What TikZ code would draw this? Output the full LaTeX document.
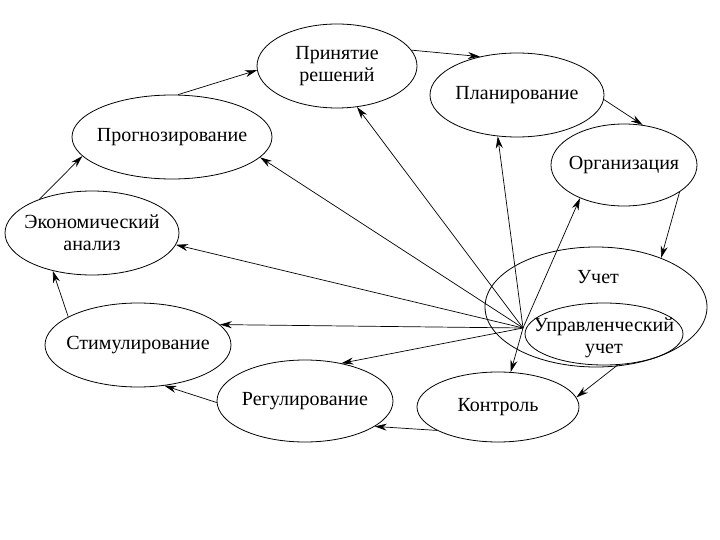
\documentclass[tikz,border=0pt]{standalone}
\usepackage{fontspec}
\setmainfont{Liberation Serif}
\usetikzlibrary{shapes.geometric,arrows.meta}
\begin{document}
\begin{tikzpicture}[x=1pt,y=-1pt,
  ell/.style={draw,ellipse,inner sep=0pt,line width=0.8pt},
  txt/.style={inner sep=0pt,align=center,font=\fontsize{20}{22}\selectfont},
  conn/.style={line width=0.7pt,-{Stealth[length=12pt,width=7pt]}}]
\useasboundingbox (0,0) rectangle (720,540);
\node[ell,minimum width=160,minimum height=84] (prin) at (337,66) {};
\node[txt] (print) at (prin) {Принятие\\решений};
\node[ell,minimum width=174,minimum height=84] (plan) at (517,95) {};
\node[txt] (plant) at (plan) {Планирование};
\node[ell,minimum width=146,minimum height=82] (org) at (624,165) {};
\node[txt] (orgt) at (org) {Организация};
\node[ell,minimum width=222,minimum height=120] (uch) at (596,307) {};
\node[txt] (uchtext) at (598,277) {Учет};
\node[ell,minimum width=158,minimum height=62] (upr) at (604,334) {};
\node[txt] (uprt) at (604,338) {Управленческий\\учет};
\node[ell,minimum width=162,minimum height=70] (kon) at (498,407) {};
\node[txt] (kont) at (kon) {Контроль};
\node[ell,minimum width=176,minimum height=82] (reg) at (305,401) {};
\node[txt] (regt) at (reg) {Регулирование};
\node[ell,minimum width=186,minimum height=84] (stim) at (138,345) {};
\node[txt] (stimt) at (stim) {Стимулирование};
\node[ell,minimum width=174,minimum height=84] (ek) at (92,233) {};
\node[txt] (ekt) at (ek) {Экономический\\анализ};
\node[ell,minimum width=200,minimum height=84] (prog) at (172,137) {};
\node[txt] (progt) at (prog) {Прогнозирование};
\coordinate (hub) at (523,328);
% cycle
\draw[conn] (prog.82) -- (prin.183);
\draw[conn] (prin.12) -- (plan.134);
\draw[conn] (plan.-3) -- (org.65);
\draw[conn] (org.-26) -- (uch.37);
\draw[conn] (upr.-66) -- (kon.7);
\draw[conn] (kon.-159) -- (reg.-20);
\draw[conn] (reg.181) -- (stim.-57);
\draw[conn] (stim.158) -- (ek.-136);
\draw[conn] (ek.147) -- (prog.-168);
% hub
\draw[conn] (hub) -- (prin.-64);
\draw[conn] (hub) -- (plan.-115);
\draw[conn] (hub) -- (org.-143);
\draw[conn] (hub) -- (prog.-13);
\draw[conn] (hub) -- (ek.-8);
\draw[conn] (hub) -- (stim.14);
\draw[conn] (hub) -- (reg.46);
\draw[conn] (hub) -- (kon.70);
\end{tikzpicture}
\end{document}
